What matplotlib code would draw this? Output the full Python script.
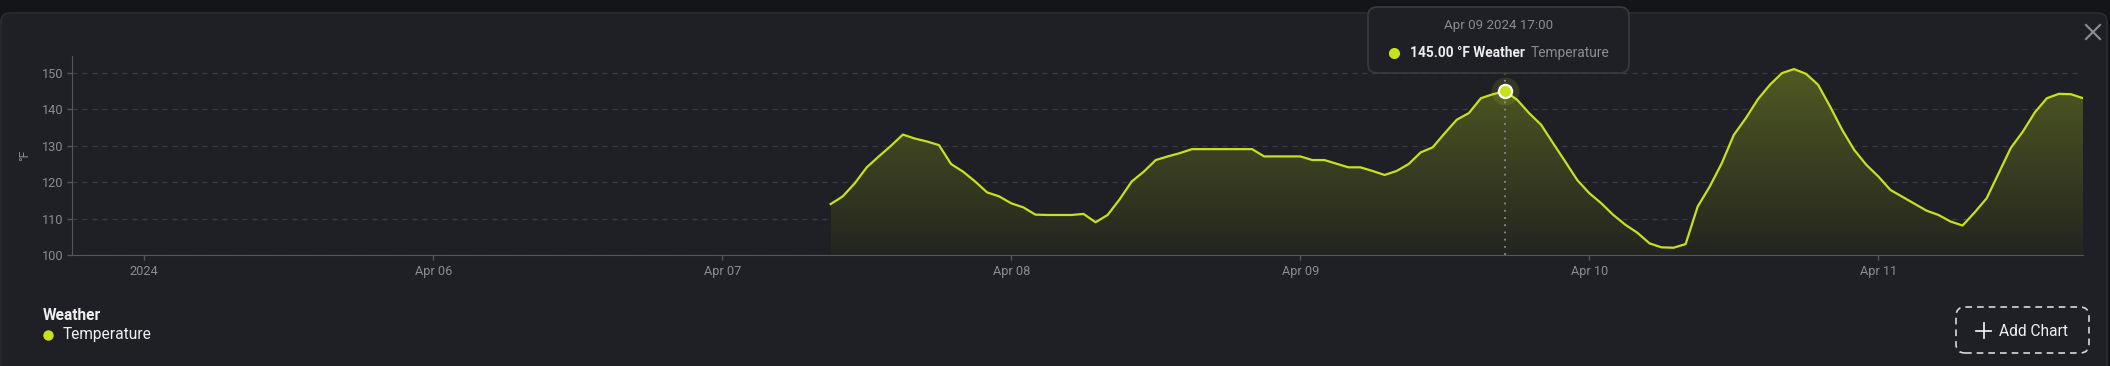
import matplotlib
matplotlib.use("Agg")
import matplotlib.pyplot as plt
import matplotlib.dates as mdates
from matplotlib.patches import FancyBboxPatch
from matplotlib.lines import Line2D
from matplotlib.transforms import IdentityTransform
from matplotlib.colors import LinearSegmentedColormap
import numpy as np
import pandas as pd
from datetime import datetime

plt.rcParams['font.family'] = ['Roboto', 'DejaVu Sans']

# colours
BG = "#1f2025"
OUTER = "#141519"
LINE = "#c9e11b"
GRID = "#3b3c42"
AXIS = "#55565c"
TXT = "#8b8c91"

W, H = 2110, 366

# hourly temperature readings, Apr 07 09:00 -> Apr 11 17:00
start = datetime(2024, 4, 7, 9)
temps = [
    114.0, 116.1, 119.7, 124.1, 127.1, 130.0, 133.1, 132.0, 131.2, 130.2,
    125.0, 122.9, 120.2, 117.2, 116.1, 114.2, 113.1, 111.1, 111.0, 111.0,
    111.0, 111.3, 109.0, 111.0, 115.3, 120.2, 122.9, 126.1, 127.1, 128.0,
    129.1, 129.1, 129.1, 129.1, 129.1, 129.1, 127.1, 127.1, 127.1, 127.1,
    126.1, 126.1, 125.1, 124.1, 124.1, 123.1, 122.0, 123.1, 125.0, 128.2,
    129.6, 133.5, 137.2, 139.0, 143.1, 144.2, 145.0, 142.7, 139.0, 135.8,
    130.7, 125.7, 120.6, 117.0, 114.2, 111.0, 108.3, 106.1, 103.2, 102.1,
    102.0, 103.0, 113.3, 118.8, 125.2, 133.0, 137.6, 142.8, 146.8, 150.0,
    151.1, 149.8, 146.8, 140.8, 134.4, 128.9, 124.8, 121.6, 117.9, 116.0,
    114.1, 112.2, 111.0, 109.2, 108.1, 111.7, 115.6, 122.5, 129.4, 133.9,
    139.2, 143.1, 144.3, 144.2, 143.1,
]
times = pd.date_range(start, periods=len(temps), freq="h")

tick_dates = [datetime(2024, 4, d) for d in range(5, 12)]
tick_labels = ["2024", "Apr 06", "Apr 07", "Apr 08", "Apr 09", "Apr 10", "Apr 11"]
y_ticks = [100, 110, 120, 130, 140, 150]

hover_time = datetime(2024, 4, 9, 17)
hover_value = 145.00

fig = plt.figure(figsize=(W / 100, H / 100), dpi=100, facecolor=OUTER)
ID = IdentityTransform()


def P(x, y):
    # screen pixel (top-left origin) -> display coords
    return x, H - y


# card background
fig.add_artist(FancyBboxPatch(P(1, 366 + 20), 2106, 366 + 20 - 13,
                              boxstyle="round,pad=0,rounding_size=9",
                              facecolor=BG, edgecolor="#2b2c31", lw=1.2,
                              transform=ID, zorder=-5))

ax = fig.add_axes([72 / W, 1 - 255 / H, (2083 - 72) / W, (255 - 56) / H])
ax.set_facecolor("none")

# area with vertical gradient
poly = ax.fill_between(times, temps, 100, color="none", lw=0)
cmap = LinearSegmentedColormap.from_list("fade", ["#23251f", "#505a22"])
grad = np.linspace(1, 0, 256).reshape(-1, 1)
x0, x1 = mdates.date2num(times[0]), mdates.date2num(times[-1])
im = ax.imshow(grad, cmap=cmap, aspect="auto", origin="upper",
               extent=[x0, x1, 100, max(temps)], zorder=1)
im.set_clip_path(poly.get_paths()[0], transform=ax.transData)

ax.plot(times, temps, color=LINE, lw=1.6, solid_joinstyle="round", zorder=3)

# hover guide + marker
ax.axvline(hover_time, color="#8a8b8f", lw=1.3, ls=(0, (1, 3)), zorder=2)
ax.plot([hover_time], [hover_value], "o", ms=20, color=LINE, alpha=0.13,
        mec="none", zorder=4)
ax.plot([hover_time], [hover_value], "o", ms=9.5, color=LINE, mec="white",
        mew=1.6, zorder=5)

ax.set_xlim(datetime(2024, 4, 4, 18), datetime(2024, 4, 11, 17))
ax.set_ylim(100, 154.7)
ax.set_xticks(tick_dates)
ax.set_xticklabels(tick_labels)
ax.set_yticks(y_ticks)
ax.grid(axis="y", color=GRID, ls=(0, (4, 4)), lw=0.9)
ax.set_axisbelow(True)
for s in ["top", "right"]:
    ax.spines[s].set_visible(False)
ax.spines["left"].set_color(AXIS)
ax.spines["bottom"].set_color(AXIS)
ax.tick_params(colors=AXIS, labelcolor=TXT, labelsize=9.2, length=3.5, width=1)
ax.tick_params(axis="x", pad=4)
ax.tick_params(axis="y", pad=2.5)

fig.text(*P(25, 155), "°F", rotation=90, color=TXT, fontsize=9,
         ha="center", va="center", transform=ID)

# tooltip
fig.add_artist(FancyBboxPatch(P(1368, 73), 261, 66,
                              boxstyle="round,pad=0,rounding_size=9",
                              facecolor="#1f2025", edgecolor="#3a3b40", lw=1.2,
                              transform=ID, zorder=10))
fig.text(*P(1499, 26), hover_time.strftime("%b %d %Y %H:%M"), color=TXT,
         fontsize=9.6, ha="center", va="center", transform=ID, zorder=11)
fig.add_artist(Line2D([1394], [H - 53], marker="o", ms=8, color=LINE,
                      mec="none", transform=ID, zorder=11))
fig.text(*P(1410, 53), f"{hover_value:.2f} °F Weather", color="#ececec",
         fontsize=9.9, fontweight="bold", ha="left", va="center",
         transform=ID, zorder=11)
fig.text(*P(1531, 53), "Temperature", color=TXT, fontsize=9.9,
         ha="left", va="center", transform=ID, zorder=11)

# legend
fig.text(*P(43, 315), "Weather", color="#f0f0f0", fontsize=11.2,
         fontweight="bold", ha="left", va="center", transform=ID)
fig.add_artist(Line2D([48], [H - 335], marker="o", ms=7.5, color=LINE,
                      mec="none", transform=ID))
fig.text(*P(63, 334), "Temperature", color="#f0f0f0", fontsize=11.2,
         ha="left", va="center", transform=ID)

# close icon
for (xa, ya, xb, yb) in [(2086, 25, 2100, 39), (2086, 39, 2100, 25)]:
    fig.add_artist(Line2D([xa, xb], [H - ya, H - yb], color="#8e8f94", lw=1.5,
                          transform=ID))

# add chart button
fig.add_artist(FancyBboxPatch(P(1956, 353), 133, 46,
                              boxstyle="round,pad=0,rounding_size=9",
                              facecolor="none", edgecolor="#d8d8d8", lw=1.2,
                              ls=(0, (4, 3)), transform=ID))
fig.add_artist(Line2D([1976, 1991], [H - 331, H - 331], color="#e8e8e8",
                      lw=1.3, transform=ID))
fig.add_artist(Line2D([1983.5, 1983.5], [H - 323, H - 338], color="#e8e8e8",
                      lw=1.3, transform=ID))
fig.text(*P(1999, 331), "Add Chart", color="#f0f0f0", fontsize=11.2,
         ha="left", va="center", transform=ID)

fig.savefig("out.png", dpi=100, facecolor=OUTER)
